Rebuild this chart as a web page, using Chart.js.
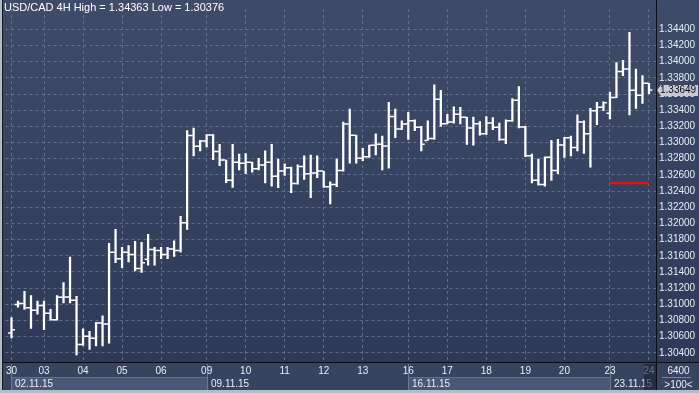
<!DOCTYPE html>
<html>
<head>
<meta charset="utf-8">
<script src="https://cdn.jsdelivr.net/npm/chart.js@4.4.1/dist/chart.umd.min.js"></script>
<style>
  html, body { margin: 0; padding: 0; background: #37445f; }
  #wrap { width: 699px; height: 393px; }
</style>
</head>
<body>
<div id="wrap"><canvas id="chart" width="699" height="393"></canvas></div>
<script>
// USD/CAD 4H bar chart (OHLC)

const chartTitle = 'USD/CAD 4H High = 1.34363 Low = 1.30376';

const opens = [
  1.30647, 1.30999, 1.31011, 1.30957, 1.30926, 1.30986, 1.30889, 1.30808, 1.31087, 1.31091,
  1.31051, 1.30502, 1.30606, 1.30582, 1.30768, 1.30756, 1.31645, 1.31563, 1.31645, 1.31617,
  1.31442, 1.31556, 1.31677, 1.31665, 1.31617, 1.31685, 1.31665, 1.32008, 1.33087, 1.32954,
  1.33018, 1.33093, 1.32889, 1.32784, 1.32533, 1.32756, 1.32744, 1.32756, 1.32675, 1.32723,
  1.32756, 1.32582, 1.32647, 1.32687, 1.32493, 1.32703, 1.32614, 1.32623, 1.32647, 1.32453,
  1.32481, 1.32654, 1.33229, 1.33091, 1.32805, 1.32824, 1.32966, 1.32978, 1.32957, 1.33321,
  1.33168, 1.33229, 1.33269, 1.33188, 1.33026, 1.33051, 1.33536, 1.33233, 1.33253, 1.33350,
  1.33314, 1.33180, 1.33233, 1.33108, 1.33241, 1.33188, 1.33039, 1.33269, 1.33523, 1.33193,
  1.32836, 1.32533, 1.32481, 1.32817, 1.32654, 1.32969, 1.33059, 1.32938, 1.33253, 1.33108,
  1.33394, 1.33435, 1.33362, 1.33556, 1.33879, 1.33908, 1.33645, 1.33584, 1.33733
];
const highs = [
  1.30836, 1.31039, 1.31160, 1.31108, 1.31039, 1.31039, 1.30938, 1.31108, 1.31269, 1.31584,
  1.31099, 1.30696, 1.30666, 1.30776, 1.30857, 1.31754, 1.31927, 1.31705, 1.31726, 1.31778,
  1.31766, 1.31866, 1.31705, 1.31705, 1.31705, 1.31786, 1.32089, 1.33148, 1.33180, 1.33026,
  1.33099, 1.33099, 1.32978, 1.32784, 1.32978, 1.32857, 1.32865, 1.32760, 1.32805, 1.32897,
  1.32978, 1.32796, 1.32736, 1.32696, 1.32723, 1.32836, 1.32845, 1.32836, 1.32647, 1.32514,
  1.32796, 1.33253, 1.33414, 1.33091, 1.32929, 1.32969, 1.33108, 1.33079, 1.33496, 1.33414,
  1.33269, 1.33374, 1.33281, 1.33200, 1.33269, 1.33714, 1.33645, 1.33350, 1.33442, 1.33435,
  1.33314, 1.33314, 1.33260, 1.33321, 1.33309, 1.33241, 1.33281, 1.33544, 1.33693, 1.33200,
  1.32857, 1.32796, 1.32824, 1.33026, 1.33039, 1.33066, 1.33079, 1.33342, 1.33269, 1.33423,
  1.33496, 1.33503, 1.33624, 1.33988, 1.34017, 1.34363, 1.33908, 1.33827, 1.33733
];
const lows = [
  1.30586, 1.30966, 1.30938, 1.30703, 1.30877, 1.30687, 1.30805, 1.30805, 1.31018, 1.31018,
  1.30376, 1.30493, 1.30441, 1.30485, 1.30485, 1.30521, 1.31515, 1.31454, 1.31523, 1.31414,
  1.31394, 1.31483, 1.31483, 1.31563, 1.31563, 1.31593, 1.31645, 1.31927, 1.32836, 1.32897,
  1.32945, 1.32788, 1.32715, 1.32505, 1.32445, 1.32663, 1.32614, 1.32635, 1.32663, 1.32502,
  1.32460, 1.32441, 1.32594, 1.32380, 1.32485, 1.32545, 1.32320, 1.32566, 1.32445, 1.32242,
  1.32453, 1.32647, 1.32744, 1.32744, 1.32776, 1.32817, 1.32848, 1.32663, 1.32683, 1.33059,
  1.33160, 1.33039, 1.33148, 1.32897, 1.33026, 1.33039, 1.33200, 1.33229, 1.33241, 1.33229,
  1.32978, 1.32969, 1.33091, 1.33099, 1.33160, 1.33026, 1.32986, 1.33260, 1.33180, 1.32824,
  1.32502, 1.32473, 1.32460, 1.32533, 1.32614, 1.32817, 1.32836, 1.32897, 1.32865, 1.32696,
  1.33220, 1.33394, 1.33293, 1.33556, 1.33827, 1.33342, 1.33423, 1.33483, 1.33605
];
const closes = [
  1.30687, 1.31011, 1.30957, 1.30926, 1.30986, 1.30889, 1.30808, 1.31087, 1.31091, 1.31051,
  1.30502, 1.30606, 1.30582, 1.30768, 1.30756, 1.31645, 1.31563, 1.31645, 1.31617, 1.31442,
  1.31515, 1.31677, 1.31665, 1.31617, 1.31685, 1.31665, 1.32008, 1.33087, 1.32954, 1.33018,
  1.33093, 1.32889, 1.32784, 1.32533, 1.32756, 1.32744, 1.32756, 1.32675, 1.32723, 1.32756,
  1.32582, 1.32647, 1.32687, 1.32493, 1.32703, 1.32614, 1.32623, 1.32647, 1.32453, 1.32481,
  1.32654, 1.33229, 1.33091, 1.32805, 1.32824, 1.32966, 1.32978, 1.32957, 1.33321, 1.33168,
  1.33229, 1.33269, 1.33188, 1.32978, 1.33051, 1.33536, 1.33233, 1.33253, 1.33350, 1.33314,
  1.33180, 1.33233, 1.33108, 1.33241, 1.33188, 1.33039, 1.33269, 1.33523, 1.33193, 1.32836,
  1.32533, 1.32481, 1.32817, 1.32654, 1.32969, 1.33059, 1.32938, 1.33253, 1.33108, 1.33394,
  1.33435, 1.33491, 1.33556, 1.33879, 1.33908, 1.33645, 1.33584, 1.33733, 1.33649
];

// time axis: bar index where each day / week starts
const dayStarts = [0, 5, 11, 17, 23, 30, 36, 42, 48, 54, 61, 67, 73, 79, 85, 92, 98];
const dayLabels = ['30', '03', '04', '05', '06', '09', '10', '11', '12', '13', '16', '17', '18', '19', '20', '23', '24'];
const weekStarts = [0, 30, 61, 92];
const weekLabels = ['02.11.15', '09.11.15', '16.11.15', '23.11.15'];

const priceTicks = [1.304, 1.306, 1.308, 1.310, 1.312, 1.314, 1.316, 1.318, 1.320, 1.322,
  1.324, 1.326, 1.328, 1.330, 1.332, 1.334, 1.336, 1.338, 1.340, 1.342, 1.344];

// red horizontal level
const levelPrice = 1.325;
const levelFrom = 92;
const levelTo = 98;

const cornerTop = '6400';
const cornerBottom = '>100<';

const FONT = "'Liberation Sans', Arial, sans-serif";
const gridColor = 'rgba(110,126,158,0.75)';
const textColor = '#e8ecf4';

const frame = {
  id: 'frame',
  beforeDraw(chart) {
    const { ctx, chartArea: a, width, height } = chart;
    const xs = chart.scales.x;
    ctx.save();
    let g = ctx.createLinearGradient(0, 0, 0, a.bottom);
    g.addColorStop(0, '#3f4c69');
    g.addColorStop(1, '#2d3957');
    ctx.fillStyle = g;
    ctx.fillRect(0, 0, width, a.bottom);

    // time rows
    ctx.fillStyle = '#37445f';
    ctx.fillRect(0, a.bottom, width, height - a.bottom);
    const rowTop = a.bottom + 15;
    const rowBot = height - 3;
    weekStarts.forEach((w, k) => {
      const x0 = Math.round(xs.getPixelForValue(w));
      const x1 = k < weekStarts.length - 1 ? Math.round(xs.getPixelForValue(weekStarts[k + 1])) : a.right;
      if (k % 2 === 0) {
        ctx.fillStyle = '#4a5875';
        ctx.fillRect(x0, rowTop, x1 - x0, rowBot - rowTop);
        ctx.strokeStyle = '#62708e';
        ctx.lineWidth = 1;
        ctx.beginPath();
        ctx.moveTo(x0, rowTop + 0.5);
        ctx.lineTo(x1, rowTop + 0.5);
        ctx.stroke();
      }
      ctx.strokeStyle = '#6a7896';
      ctx.beginPath();
      ctx.moveTo(x0 + 0.5, a.bottom + 2);
      ctx.lineTo(x0 + 0.5, rowBot);
      ctx.stroke();
    });
    ctx.restore();
  },
  afterDraw(chart) {
    const { ctx, chartArea: a, width, height } = chart;
    const xs = chart.scales.x;
    const ys = chart.scales.y;
    ctx.save();

    // week labels
    ctx.font = '10px ' + FONT;
    ctx.fillStyle = textColor;
    ctx.textBaseline = 'middle';
    ctx.textAlign = 'left';
    weekStarts.forEach((w, k) => {
      ctx.fillText(weekLabels[k], Math.round(xs.getPixelForValue(w)) + 4, a.bottom + 22);
    });

    // current bar column in time rows
    const cx = xs.getPixelForValue(dayStarts[dayStarts.length - 1]);
    ctx.fillStyle = 'rgba(22,30,50,0.6)';
    ctx.fillRect(cx - 5, a.bottom + 2, a.right - (cx - 5), height - 5 - a.bottom);

    // black separators
    ctx.strokeStyle = '#0b0e16';
    ctx.lineWidth = 1;
    ctx.beginPath();
    ctx.moveTo(0, a.bottom + 0.5);
    ctx.lineTo(width, a.bottom + 0.5);
    ctx.moveTo(a.right + 0.5, 0);
    ctx.lineTo(a.right + 0.5, height - 3);
    ctx.stroke();

    // corner box texts
    ctx.fillStyle = textColor;
    ctx.textAlign = 'center';
    const cmid = (a.right + width) / 2;
    ctx.fillText(cornerTop, cmid + 1, a.bottom + 9);
    ctx.fillText(cornerBottom, cmid + 1, a.bottom + 23);
    ctx.strokeStyle = '#7a86a0';
    ctx.beginPath();
    ctx.moveTo(a.right + 6, a.bottom + 15.5);
    ctx.lineTo(width - 8, a.bottom + 15.5);
    ctx.stroke();

    // current price label
    const last = closes[closes.length - 1];
    const py = Math.round(ys.getPixelForValue(last));
    ctx.fillStyle = '#c6cbd5';
    ctx.beginPath();
    ctx.moveTo(a.right + 1, py);
    ctx.lineTo(a.right + 5, py - 5);
    ctx.lineTo(width - 1, py - 5);
    ctx.lineTo(width - 1, py + 6);
    ctx.lineTo(a.right + 5, py + 6);
    ctx.closePath();
    ctx.fill();
    ctx.fillStyle = '#0c0c10';
    ctx.textAlign = 'left';
    ctx.fillText(last.toFixed(5), a.right + 4, py + 0.5);

    // title
    ctx.font = '11px ' + FONT;
    ctx.fillStyle = '#ffffff';
    ctx.fillText(chartTitle, 4, 8);

    // outer frame
    ctx.fillStyle = '#b4bbc8';
    ctx.fillRect(0, 0, 2, height);
    ctx.fillRect(0, height - 3, width, 3);
    ctx.fillStyle = '#141a26';
    ctx.fillRect(2, 0, 1, height - 3);
    ctx.restore();
  }
};

const idx = opens.map((_, i) => i);

new Chart(document.getElementById('chart'), {
  type: 'bar',
  data: {
    datasets: [
      {
        type: 'line',
        data: [{ x: levelFrom, y: levelPrice }, { x: levelTo, y: levelPrice }],
        borderColor: '#e01414',
        borderWidth: 2.5,
        pointRadius: 0
      },
      {
        type: 'line',
        data: idx.map(i => ({ x: i - 0.33, y: opens[i] })),
        showLine: false,
        pointStyle: 'line',
        pointRadius: 1.3,
        pointBorderWidth: 1.5,
        pointBorderColor: '#ffffff'
      },
      {
        type: 'line',
        data: idx.map(i => ({ x: i + 0.33, y: closes[i] })),
        showLine: false,
        pointStyle: 'line',
        pointRadius: 1.3,
        pointBorderWidth: 1.5,
        pointBorderColor: '#ffffff'
      },
      {
        type: 'bar',
        data: idx.map(i => ({ x: i, y: [lows[i], highs[i]] })),
        backgroundColor: '#ffffff',
        borderWidth: 0,
        barThickness: 1.6
      }
    ]
  },
  options: {
    responsive: false,
    animation: false,
    events: [],
    layout: { padding: { left: 3, top: 2, right: 0, bottom: 0 } },
    plugins: { legend: { display: false }, tooltip: { enabled: false } },
    scales: {
      x: {
        type: 'linear',
        min: -0.92,
        max: 99.08,
        offset: false,
        afterBuildTicks: s => { s.ticks = dayStarts.map(v => ({ value: v })); },
        afterFit: s => { s.height = 31; },
        grid: { color: gridColor, drawTicks: false, offset: false },
        border: { display: false, dash: [3, 3] },
        ticks: {
          color: textColor,
          font: { family: FONT, size: 10 },
          padding: 3,
          maxRotation: 0,
          autoSkip: false,
          callback: (v, i) => dayLabels[i]
        }
      },
      y: {
        position: 'right',
        min: 1.30287,
        max: 1.34651,
        beginAtZero: false,
        afterBuildTicks: s => { s.ticks = priceTicks.map(v => ({ value: v })); },
        afterFit: s => { s.width = 43; },
        grid: { color: gridColor, drawTicks: false },
        border: { display: false, dash: [3, 3] },
        ticks: {
          color: textColor,
          font: { family: FONT, size: 10 },
          padding: 3,
          callback: v => v.toFixed(5)
        }
      }
    }
  },
  plugins: [frame]
});
</script>
</body>
</html>
